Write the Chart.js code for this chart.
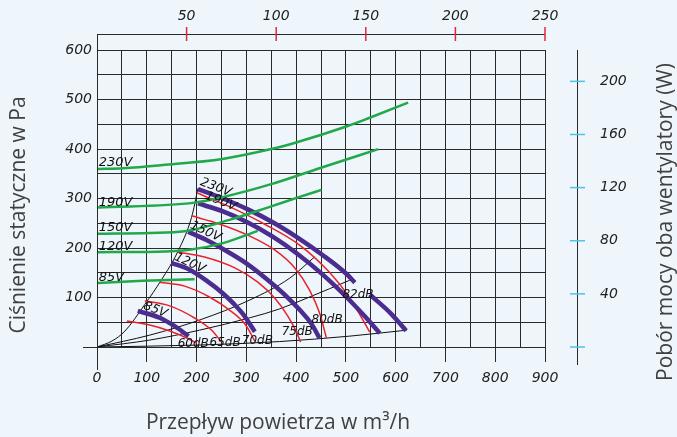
<!DOCTYPE html>
<html>
<head>
<meta charset="utf-8">
<script src="https://cdn.jsdelivr.net/npm/chart.js@4.4.0/dist/chart.umd.min.js"></script>
<style>
  html, body { margin: 0; padding: 0; background: #eef5fb; }
  canvas { display: block; }
</style>
</head>
<body>
<canvas id="chart" width="677" height="437"></canvas>
<script>
// tick values
const flowTicks = [0, 100, 200, 300, 400, 500, 600, 700, 800, 900];
const powerTicks = [0, 40, 80, 120, 160, 200];
const topTicks = [50, 100, 150, 200, 250];

// power curves (W, right axis) - flow m3/h, W
const power230V = [[2, 134], [52, 134.6], [132, 137], [252, 141.6], [350, 149], [400, 154], [501, 166], [548, 172.6], [625, 184]];
const power190V = [[2, 105], [196, 108.7], [252, 112.8], [350, 122.6], [447, 134.6], [565, 149]];
const power150V = [[2, 85.2], [106, 85.9], [176, 87.1], [266, 95.7], [347, 105.5], [407, 113], [451, 118.3]];
const power120V = [[2, 71.4], [119, 71.7], [186, 73.2], [253, 78.2], [323, 87.4]];
const power85V = [[2, 48.1], [92, 49.8], [196, 51.1]];

// fan curves (Pa)
const fan230V = [[203, 319], [253, 300], [303, 278], [353, 252], [403, 221], [453, 186], [503, 146], [518, 130], [533, null], [548, 106], [590, 68], [621, 33]];
const fan190V = [[203, 290], [253, 274], [303, 251.6], [353, 223], [403, 188], [453, 146.7], [503, 99], [538, 62], [568, 28]];
const fan150V = [[183, 233], [220, 216], [260, 194], [300, 169], [340, 138], [380, 103], [410, 72], [430, 48], [447, 18]];
const fan120V = [[149, 170], [186, 156], [220, 134], [252, 109], [275, 87], [293, 67], [317, 31]];
const fan85V = [[82, 73], [126, 59], [156, 42], [184, 22]];

// noise lines (Pa)
const noise60 = [[60, 52.5], [106, 44.4], [146, 32.3], [176, 20.2], [200, 8]];
const noise65 = [[96, 93], [146, 83], [196, 58.6], [230, 34.3], [250, 10]];
const noise70 = [[126, 131], [176, 123], [226, 101], [271, 71], [299, 44], [317, 12]];
const noise75 = [[162, 192], [216, 182], [277, 160], [323, 131], [357, 99], [383, 63], [399, 34], [409, 10]];
const noise80 = [[190, 265], [246, 248.5], [307, 224], [357, 196], [397, 160], [427, 115], [447, 69], [461, 18]];
const noise82 = [[202, 311], [267, 283], [337, 248], [407, 206], [467, 151], [508, 99], [548, 30]];

// black lines
const envelope = [[0, 0], [30, 12], [56, 32], [96, 86], [129, 135], [162, 192], [190, 262], [203, 321]];
const systemLow = [[0, 0], [206, 4], [367, 11], [508, 22], [622, 34]];
const systemMid = [[0, 0], [106, 14], [206, 34], [307, 59], [367, 77], [427, 101], [508, 135]];
const systemHigh = [[0, 0], [106, 24], [206, 54.5], [307, 95], [387, 139], [437, 182]];

const bg = '#eef5fb';
const gridColor = '#2a2a2a';
const green = '#20a84a';
const purple = '#4a2d8e';
const red = '#e8232b';
const italic = (size) => `italic ${size}px "DejaVu Sans", sans-serif`;
const titleFont = '21px "Open Sans", "Noto Sans", sans-serif';

const toPts = arr => arr.map(([x, y]) => ({ x, y }));
function curve(arr, color, width, axis) {
    return {
        data: toPts(arr),
        borderColor: color,
        borderWidth: width,
        yAxisID: axis || 'y',
        xAxisID: 'x',
        pointRadius: 0,
        fill: false,
        spanGaps: false
    };
}

const datasets = [
    curve(power230V, green, 2.5, 'y2'),
    curve(power190V, green, 2.5, 'y2'),
    curve(power150V, green, 2.5, 'y2'),
    curve(power120V, green, 2.5, 'y2'),
    curve(power85V, green, 2.5, 'y2'),
    curve(fan230V, purple, 4.5),
    curve(fan190V, purple, 4.5),
    curve(fan150V, purple, 4.5),
    curve(fan120V, purple, 4.5),
    curve(fan85V, purple, 4.5),
    curve(noise60, red, 1.5),
    curve(noise65, red, 1.5),
    curve(noise70, red, 1.5),
    curve(noise75, red, 1.5),
    curve(noise80, red, 1.5),
    curve(noise82, red, 1.5),
    curve(envelope, '#111', 1),
    curve(systemLow, '#111', 1),
    curve(systemMid, '#111', 1),
    curve(systemHigh, '#111', 1)
];

// text labels inside the plot: [text, flow, value, axis, angle deg, size]
const curveLabels = [
    ['230V', 3.6, 136.5, 'y2', 0, 13],
    ['190V', 3.6, 106.5, 'y2', 0, 13],
    ['150V', 3.6, 87, 'y2', 0, 13],
    ['120V', 3.6, 72.8, 'y2', 0, 13],
    ['85V', 3.6, 49.5, 'y2', 0, 13],
    ['230V', 206, 328, 'y', 21, 12.5],
    ['190V', 216, 300, 'y', 22, 12.5],
    ['150V', 186, 241, 'y', 25, 12.5],
    ['120V', 154, 177, 'y', 25, 12.5],
    ['85V', 92, 78, 'y', 22, 12.5],
    ['60dB', 162, 0, 'y', 0, 12],
    ['65dB', 226, 2, 'y', 0, 12],
    ['70dB', 291, 6, 'y', 0, 12],
    ['75dB', 371, 24, 'y', 0, 12],
    ['80dB', 431, 48.5, 'y', 0, 12],
    ['82dB', 493, 99, 'y', 0, 12]
];

const decor = {
    id: 'decor',
    beforeDraw(chart) {
        const c = chart.ctx;
        c.save();
        c.fillStyle = bg;
        c.fillRect(0, 0, chart.width, chart.height);
        c.restore();
    },
    afterDatasetsDraw(chart) {
        const c = chart.ctx;
        const x = chart.scales.x;
        c.save();
        c.fillStyle = '#111';
        c.textBaseline = 'alphabetic';
        c.textAlign = 'left';
        curveLabels.forEach(([txt, fx, v, axis, ang, size]) => {
            const px = x.getPixelForValue(fx);
            const py = chart.scales[axis].getPixelForValue(v);
            c.save();
            c.translate(px, py);
            c.rotate(ang * Math.PI / 180);
            c.font = italic(size);
            c.fillText(txt, 0, 0);
            c.restore();
        });
        c.restore();
    },
    afterDraw(chart) {
        const c = chart.ctx;
        const area = chart.chartArea;
        const x2 = chart.scales.x2;
        const y2 = chart.scales.y2;
        c.save();

        // left axis line and baseline stub
        c.strokeStyle = gridColor;
        c.lineWidth = 1;
        c.beginPath();
        c.moveTo(area.left + 0.5, 34);
        c.lineTo(area.left + 0.5, 370);
        c.moveTo(83, area.bottom + 0.5);
        c.lineTo(area.right, area.bottom + 0.5);
        c.stroke();

        // top axis
        c.beginPath();
        c.moveTo(area.left, 34.5);
        c.lineTo(area.right, 34.5);
        c.stroke();
        c.strokeStyle = '#e8233b';
        c.lineWidth = 1.5;
        c.font = italic(14);
        c.fillStyle = '#222';
        c.textAlign = 'center';
        c.textBaseline = 'middle';
        topTicks.forEach(v => {
            const px = x2.getPixelForValue(v);
            c.beginPath();
            c.moveTo(px, 27);
            c.lineTo(px, 41);
            c.stroke();
            c.fillText(String(v), px, 16);
        });

        // right axis
        const rx = 577.5;
        c.strokeStyle = gridColor;
        c.lineWidth = 1;
        c.beginPath();
        c.moveTo(rx, area.top);
        c.lineTo(rx, 365);
        c.stroke();
        c.strokeStyle = '#4cc3ea';
        c.lineWidth = 1.5;
        c.textAlign = 'left';
        powerTicks.forEach(v => {
            const py = y2.getPixelForValue(v);
            c.beginPath();
            c.moveTo(570, py);
            c.lineTo(585, py);
            c.stroke();
            if (v > 0) c.fillText(String(v), 600, py);
        });

        // axis titles
        c.fillStyle = '#404040';
        c.font = titleFont;
        c.textAlign = 'center';
        c.textBaseline = 'middle';
        c.fillText('Przepływ powietrza w m³/h', 278, 423);
        c.save();
        c.translate(19, 215);
        c.rotate(-Math.PI / 2);
        c.fillText('Ciśnienie statyczne w Pa', 0, 0);
        c.restore();
        c.save();
        c.translate(666, 222);
        c.rotate(-Math.PI / 2);
        c.fillText('Pobór mocy oba wentylatory (W)', 0, 0);
        c.restore();

        c.restore();
    }
};

new Chart(document.getElementById('chart'), {
    type: 'line',
    data: { datasets },
    options: {
        responsive: false,
        animation: false,
        devicePixelRatio: 1,
        layout: { padding: { left: 0, right: 132, top: 50, bottom: 0 } },
        plugins: { legend: { display: false }, tooltip: { enabled: false } },
        elements: {
            point: { radius: 0 },
            line: { cubicInterpolationMode: 'monotone', borderCapStyle: 'butt' }
        },
        scales: {
            x: {
                type: 'linear', min: 0, max: 900,
                afterFit: s => { s.height = 90; },
                afterBuildTicks: s => { s.ticks = Array.from({ length: 19 }, (_, i) => ({ value: i * 50 })); },
                ticks: {
                    autoSkip: false, maxRotation: 0, padding: 8, color: '#222',
                    font: { family: 'DejaVu Sans', style: 'italic', size: 14 },
                    callback: v => flowTicks.includes(v) ? String(v) : ''
                },
                grid: {
                    color: gridColor, lineWidth: 1, tickLength: 15,
                    tickColor: ctx => flowTicks.includes(ctx.tick.value) ? gridColor : 'rgba(0,0,0,0)'
                },
                border: { display: false }
            },
            y: {
                min: 0, max: 600,
                afterFit: s => { s.width = 97; },
                afterBuildTicks: s => { s.ticks = Array.from({ length: 13 }, (_, i) => ({ value: i * 50 })); },
                ticks: {
                    padding: 5, color: '#222',
                    font: { family: 'DejaVu Sans', style: 'italic', size: 14 },
                    callback: v => (v % 100 === 0 && v > 0) ? String(v) : ''
                },
                grid: { color: gridColor, lineWidth: 1, drawTicks: false },
                border: { display: false }
            },
            y2: { display: false, min: 0, max: 223.6 },
            x2: { type: 'linear', display: false, position: 'top', min: 0, max: 250 }
        }
    },
    plugins: [decor]
});
</script>
</body>
</html>
